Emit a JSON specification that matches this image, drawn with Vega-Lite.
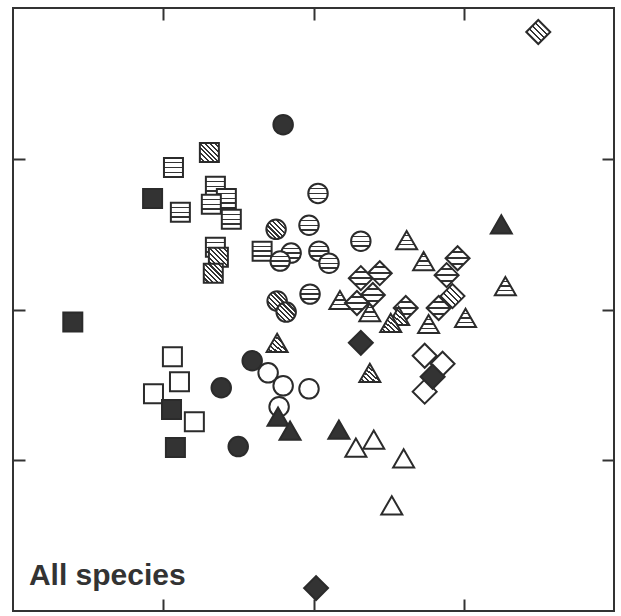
{
  "$schema": "https://vega.github.io/schema/vega-lite/v6.json",
  "width": 621,
  "height": 616,
  "autosize": {"type": "fit", "contains": "padding"},
  "padding": {"left": 12, "top": 7, "right": 6, "bottom": 4},
  "background": "white",
  "config": {
    "view": {"stroke": "#333333", "strokeWidth": 2},
    "axis": {"domain": false, "grid": false, "labels": false, "title": null, "ticks": true, "tickSize": -12, "tickWidth": 2, "tickColor": "#333333"}
  },
  "datasets": {
    "pts": [
      {"x": 0.929, "y": 2.737, "shape": "square", "pattern": "solid"},
      {"x": 0.398, "y": 1.917, "shape": "square", "pattern": "solid"},
      {"x": 1.055, "y": 1.336, "shape": "square", "pattern": "solid"},
      {"x": 1.081, "y": 1.084, "shape": "square", "pattern": "solid"},
      {"x": 1.061, "y": 1.686, "shape": "square", "pattern": "open"},
      {"x": 1.108, "y": 1.521, "shape": "square", "pattern": "open"},
      {"x": 0.935, "y": 1.441, "shape": "square", "pattern": "open"},
      {"x": 1.207, "y": 1.256, "shape": "square", "pattern": "open"},
      {"x": 1.068, "y": 2.942, "shape": "square", "pattern": "horizontal"},
      {"x": 1.114, "y": 2.645, "shape": "square", "pattern": "horizontal"},
      {"x": 1.347, "y": 2.817, "shape": "square", "pattern": "horizontal"},
      {"x": 1.420, "y": 2.737, "shape": "square", "pattern": "horizontal"},
      {"x": 1.320, "y": 2.698, "shape": "square", "pattern": "horizontal"},
      {"x": 1.453, "y": 2.598, "shape": "square", "pattern": "horizontal"},
      {"x": 1.347, "y": 2.413, "shape": "square", "pattern": "horizontal"},
      {"x": 1.658, "y": 2.387, "shape": "square", "pattern": "horizontal"},
      {"x": 1.307, "y": 3.041, "shape": "square", "pattern": "diagonal"},
      {"x": 1.367, "y": 2.347, "shape": "square", "pattern": "diagonal"},
      {"x": 1.333, "y": 2.241, "shape": "square", "pattern": "diagonal"},
      {"x": 1.798, "y": 3.226, "shape": "circle", "pattern": "solid"},
      {"x": 1.592, "y": 1.660, "shape": "circle", "pattern": "solid"},
      {"x": 1.386, "y": 1.481, "shape": "circle", "pattern": "solid"},
      {"x": 1.499, "y": 1.091, "shape": "circle", "pattern": "solid"},
      {"x": 1.698, "y": 1.580, "shape": "circle", "pattern": "open"},
      {"x": 1.798, "y": 1.494, "shape": "circle", "pattern": "open"},
      {"x": 1.970, "y": 1.474, "shape": "circle", "pattern": "open"},
      {"x": 1.771, "y": 1.355, "shape": "circle", "pattern": "open"},
      {"x": 2.030, "y": 2.770, "shape": "circle", "pattern": "horizontal"},
      {"x": 1.970, "y": 2.559, "shape": "circle", "pattern": "horizontal"},
      {"x": 1.851, "y": 2.374, "shape": "circle", "pattern": "horizontal"},
      {"x": 1.778, "y": 2.321, "shape": "circle", "pattern": "horizontal"},
      {"x": 2.036, "y": 2.387, "shape": "circle", "pattern": "horizontal"},
      {"x": 2.103, "y": 2.307, "shape": "circle", "pattern": "horizontal"},
      {"x": 2.315, "y": 2.453, "shape": "circle", "pattern": "horizontal"},
      {"x": 1.977, "y": 2.102, "shape": "circle", "pattern": "horizontal"},
      {"x": 1.751, "y": 2.532, "shape": "circle", "pattern": "diagonal"},
      {"x": 1.758, "y": 2.056, "shape": "circle", "pattern": "diagonal"},
      {"x": 1.818, "y": 1.983, "shape": "circle", "pattern": "diagonal"},
      {"x": 3.250, "y": 2.565, "shape": "triangle-up", "pattern": "solid"},
      {"x": 1.764, "y": 1.289, "shape": "triangle-up", "pattern": "solid"},
      {"x": 1.844, "y": 1.197, "shape": "triangle-up", "pattern": "solid"},
      {"x": 2.169, "y": 1.203, "shape": "triangle-up", "pattern": "solid"},
      {"x": 2.282, "y": 1.084, "shape": "triangle-up", "pattern": "open"},
      {"x": 2.401, "y": 1.137, "shape": "triangle-up", "pattern": "open"},
      {"x": 2.600, "y": 1.012, "shape": "triangle-up", "pattern": "open"},
      {"x": 2.521, "y": 0.701, "shape": "triangle-up", "pattern": "open"},
      {"x": 2.620, "y": 2.460, "shape": "triangle-up", "pattern": "horizontal"},
      {"x": 2.733, "y": 2.321, "shape": "triangle-up", "pattern": "horizontal"},
      {"x": 2.176, "y": 2.063, "shape": "triangle-up", "pattern": "horizontal"},
      {"x": 2.375, "y": 1.983, "shape": "triangle-up", "pattern": "horizontal"},
      {"x": 3.012, "y": 1.944, "shape": "triangle-up", "pattern": "horizontal"},
      {"x": 2.766, "y": 1.904, "shape": "triangle-up", "pattern": "horizontal"},
      {"x": 3.277, "y": 2.155, "shape": "triangle-up", "pattern": "horizontal"},
      {"x": 2.567, "y": 1.957, "shape": "triangle-up", "pattern": "diagonal"},
      {"x": 2.514, "y": 1.911, "shape": "triangle-up", "pattern": "diagonal"},
      {"x": 1.758, "y": 1.779, "shape": "triangle-up", "pattern": "diagonal"},
      {"x": 2.375, "y": 1.580, "shape": "triangle-up", "pattern": "diagonal"},
      {"x": 2.315, "y": 1.779, "shape": "diamond", "pattern": "solid"},
      {"x": 2.793, "y": 1.554, "shape": "diamond", "pattern": "solid"},
      {"x": 2.017, "y": 0.152, "shape": "diamond", "pattern": "solid"},
      {"x": 2.740, "y": 1.693, "shape": "diamond", "pattern": "open"},
      {"x": 2.859, "y": 1.640, "shape": "diamond", "pattern": "open"},
      {"x": 2.740, "y": 1.455, "shape": "diamond", "pattern": "open"},
      {"x": 2.315, "y": 2.208, "shape": "diamond", "pattern": "horizontal"},
      {"x": 2.441, "y": 2.241, "shape": "diamond", "pattern": "horizontal"},
      {"x": 2.395, "y": 2.096, "shape": "diamond", "pattern": "horizontal"},
      {"x": 2.289, "y": 2.043, "shape": "diamond", "pattern": "horizontal"},
      {"x": 2.614, "y": 2.010, "shape": "diamond", "pattern": "horizontal"},
      {"x": 2.959, "y": 2.340, "shape": "diamond", "pattern": "horizontal"},
      {"x": 2.886, "y": 2.228, "shape": "diamond", "pattern": "horizontal"},
      {"x": 2.833, "y": 2.010, "shape": "diamond", "pattern": "horizontal"},
      {"x": 2.925, "y": 2.089, "shape": "diamond", "pattern": "diagonal"},
      {"x": 3.496, "y": 3.841, "shape": "diamond", "pattern": "diagonal"}
    ],
    "label": [
      {"x": 0.106, "y": 0.172, "text": "All species"}
    ]
  },
  "layer": [
    {
      "data": {"name": "pts"},
      "transform": [{"filter": "datum.pattern === 'horizontal'"}],
      "mark": {
        "type": "point", "filled": true, "stroke": "#2b2b2b", "strokeWidth": 2, "opacity": 1,
        "fill": {"gradient": "linear", "x1": 0, "y1": 0, "x2": 0, "y2": 1, "stops": [
          {"offset": 0, "color": "#ffffff"}, {"offset": 0.215, "color": "#ffffff"},
          {"offset": 0.215, "color": "#333333"}, {"offset": 0.285, "color": "#333333"},
          {"offset": 0.285, "color": "#ffffff"}, {"offset": 0.465, "color": "#ffffff"},
          {"offset": 0.465, "color": "#333333"}, {"offset": 0.535, "color": "#333333"},
          {"offset": 0.535, "color": "#ffffff"}, {"offset": 0.715, "color": "#ffffff"},
          {"offset": 0.715, "color": "#333333"}, {"offset": 0.785, "color": "#333333"},
          {"offset": 0.785, "color": "#ffffff"}, {"offset": 1, "color": "#ffffff"}
        ]}
      },
      "encoding": {
        "x": {"field": "x", "type": "quantitative", "scale": {"domain": [0, 4], "nice": false, "zero": false}, "axis": {"orient": "bottom", "values": [1, 2, 3]}},
        "y": {"field": "y", "type": "quantitative", "scale": {"domain": [0, 4], "nice": false, "zero": false}, "axis": {"orient": "left", "values": [1, 2, 3]}},
        "shape": {"field": "shape", "type": "nominal", "scale": {"domain": ["square", "circle", "triangle-up", "diamond"], "range": ["square", "circle", "triangle-up", "diamond"]}, "legend": null},
        "size": {"field": "shape", "type": "nominal", "scale": {"type": "ordinal", "domain": ["square", "circle", "triangle-up", "diamond"], "range": [361, 380, 441, 576]}, "legend": null}
      }
    },
    {
      "data": {"name": "pts"},
      "transform": [{"filter": "datum.pattern === 'diagonal'"}],
      "mark": {
        "type": "point", "filled": true, "stroke": "#2b2b2b", "strokeWidth": 2, "opacity": 1,
        "fill": {"gradient": "linear", "x1": 0, "y1": 1, "x2": 1, "y2": 0, "stops": [
          {"offset": 0, "color": "#ffffff"}, {"offset": 0.1, "color": "#ffffff"},
          {"offset": 0.1, "color": "#333333"}, {"offset": 0.155, "color": "#333333"},
          {"offset": 0.155, "color": "#ffffff"}, {"offset": 0.225, "color": "#ffffff"},
          {"offset": 0.225, "color": "#333333"}, {"offset": 0.28, "color": "#333333"},
          {"offset": 0.28, "color": "#ffffff"}, {"offset": 0.35, "color": "#ffffff"},
          {"offset": 0.35, "color": "#333333"}, {"offset": 0.405, "color": "#333333"},
          {"offset": 0.405, "color": "#ffffff"}, {"offset": 0.475, "color": "#ffffff"},
          {"offset": 0.475, "color": "#333333"}, {"offset": 0.53, "color": "#333333"},
          {"offset": 0.53, "color": "#ffffff"}, {"offset": 0.6, "color": "#ffffff"},
          {"offset": 0.6, "color": "#333333"}, {"offset": 0.655, "color": "#333333"},
          {"offset": 0.655, "color": "#ffffff"}, {"offset": 0.725, "color": "#ffffff"},
          {"offset": 0.725, "color": "#333333"}, {"offset": 0.78, "color": "#333333"},
          {"offset": 0.78, "color": "#ffffff"}, {"offset": 0.85, "color": "#ffffff"},
          {"offset": 0.85, "color": "#333333"}, {"offset": 0.905, "color": "#333333"},
          {"offset": 0.905, "color": "#ffffff"}, {"offset": 1, "color": "#ffffff"}
        ]}
      },
      "encoding": {
        "x": {"field": "x", "type": "quantitative", "scale": {"domain": [0, 4], "nice": false, "zero": false}, "axis": {"orient": "top", "values": [1, 2, 3]}},
        "y": {"field": "y", "type": "quantitative", "scale": {"domain": [0, 4], "nice": false, "zero": false}, "axis": {"orient": "right", "values": [1, 2, 3]}},
        "shape": {"field": "shape", "type": "nominal", "scale": {"domain": ["square", "circle", "triangle-up", "diamond"], "range": ["square", "circle", "triangle-up", "diamond"]}, "legend": null},
        "size": {"field": "shape", "type": "nominal", "scale": {"type": "ordinal", "domain": ["square", "circle", "triangle-up", "diamond"], "range": [361, 380, 441, 576]}, "legend": null}
      }
    },
    {
      "data": {"name": "pts"},
      "transform": [{"filter": "datum.pattern === 'open'"}],
      "mark": {"type": "point", "filled": true, "fill": "#ffffff", "stroke": "#2b2b2b", "strokeWidth": 2, "opacity": 1},
      "encoding": {
        "x": {"field": "x", "type": "quantitative", "scale": {"domain": [0, 4], "nice": false, "zero": false}, "axis": null},
        "y": {"field": "y", "type": "quantitative", "scale": {"domain": [0, 4], "nice": false, "zero": false}, "axis": null},
        "shape": {"field": "shape", "type": "nominal", "scale": {"domain": ["square", "circle", "triangle-up", "diamond"], "range": ["square", "circle", "triangle-up", "diamond"]}, "legend": null},
        "size": {"field": "shape", "type": "nominal", "scale": {"type": "ordinal", "domain": ["square", "circle", "triangle-up", "diamond"], "range": [361, 380, 441, 576]}, "legend": null}
      }
    },
    {
      "data": {"name": "pts"},
      "transform": [{"filter": "datum.pattern === 'solid'"}],
      "mark": {"type": "point", "filled": true, "fill": "#333333", "stroke": "#2b2b2b", "strokeWidth": 2, "opacity": 1},
      "encoding": {
        "x": {"field": "x", "type": "quantitative", "scale": {"domain": [0, 4], "nice": false, "zero": false}, "axis": null},
        "y": {"field": "y", "type": "quantitative", "scale": {"domain": [0, 4], "nice": false, "zero": false}, "axis": null},
        "shape": {"field": "shape", "type": "nominal", "scale": {"domain": ["square", "circle", "triangle-up", "diamond"], "range": ["square", "circle", "triangle-up", "diamond"]}, "legend": null},
        "size": {"field": "shape", "type": "nominal", "scale": {"type": "ordinal", "domain": ["square", "circle", "triangle-up", "diamond"], "range": [361, 380, 441, 576]}, "legend": null}
      }
    },
    {
      "data": {"name": "label"},
      "mark": {"type": "text", "align": "left", "baseline": "alphabetic", "font": "Liberation Sans", "fontWeight": "bold", "fontSize": 30, "color": "#333333"},
      "encoding": {
        "x": {"field": "x", "type": "quantitative", "scale": {"domain": [0, 4], "nice": false, "zero": false}, "axis": null},
        "y": {"field": "y", "type": "quantitative", "scale": {"domain": [0, 4], "nice": false, "zero": false}, "axis": null},
        "text": {"field": "text"}
      }
    }
  ],
  "resolve": {"axis": {"x": "independent", "y": "independent"}}
}
